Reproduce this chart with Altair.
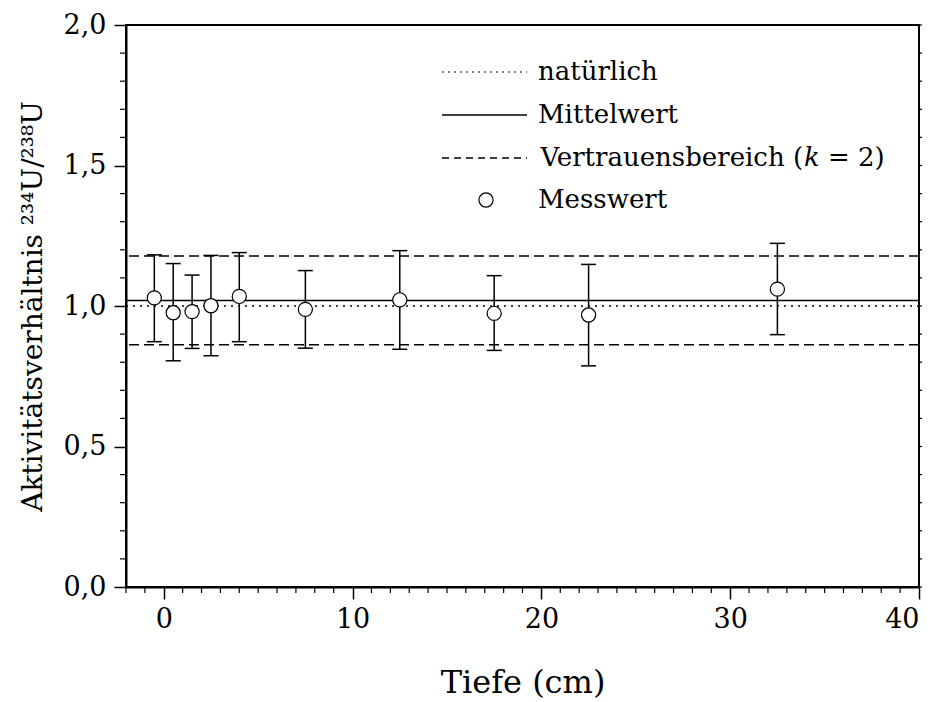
import altair as alt
import pandas as pd

# ---- data ----
depth = [-0.5, 0.5, 1.5, 2.5, 4.0, 7.5, 12.5, 17.5, 22.5, 32.5]
ratio = [1.029, 0.976, 0.980, 1.001, 1.034, 0.988, 1.022, 0.974, 0.968, 1.060]
upper = [1.182, 1.151, 1.110, 1.180, 1.190, 1.126, 1.197, 1.108, 1.148, 1.223]
lower = [0.873, 0.805, 0.849, 0.823, 0.873, 0.850, 0.846, 0.842, 0.787, 0.898]

natural_level = [1.0]
mean_level = [1.02]
ci_levels = [0.862, 1.178]

x_major = [0, 10, 20, 30, 40]
y_major = [0.0, 0.5, 1.0, 1.5, 2.0]
x_minor = [v for v in range(-2, 41) if v % 10 != 0]
y_minor = [round(i / 10, 1) for i in range(0, 21) if i % 5 != 0]
y_all = [round(i / 10, 1) for i in range(0, 21)]

legend_labels = ["natürlich", "Mittelwert", "Vertrauensbereich (", "Messwert"]

FONT = "DejaVu Serif"
W, H = 793, 562

df = pd.DataFrame({"depth": depth, "ratio": ratio, "upper": upper, "lower": lower})
xs = alt.Scale(domain=[-2, 40], nice=False, zero=False)
ys = alt.Scale(domain=[0, 2], nice=False, zero=False)

comma = "replace(format(datum.value, '.1f'), '.', ',')"

points = alt.Chart(df).mark_point(
    shape="circle", filled=True, fill="white", stroke="black",
    strokeWidth=1.2, size=200, opacity=1
).encode(
    x=alt.X("depth:Q", scale=xs, axis=alt.Axis(
        values=x_major, title="Tiefe (cm)", tickSize=12, labelPadding=7,
        titlePadding=35, titleFontSize=32, format="d")),
    y=alt.Y("ratio:Q", scale=ys, axis=alt.Axis(
        values=y_major, labelExpr=comma,
        title="Aktivitätsverhältnis ²³⁴U/²³⁸U", tickSize=12, labelPadding=8,
        titlePadding=16, titleFontSize=28)),
)

bars = alt.Chart(df).mark_rule(color="black", strokeWidth=1.5).encode(
    x=alt.X("depth:Q", scale=xs), y=alt.Y("lower:Q", scale=ys), y2="upper:Q")
cap_top = alt.Chart(df).mark_rule(color="black", strokeWidth=1.5, xOffset=-7.5, x2Offset=7.5).encode(
    x=alt.X("depth:Q", scale=xs), x2="depth:Q", y=alt.Y("upper:Q", scale=ys))
cap_bot = alt.Chart(df).mark_rule(color="black", strokeWidth=1.5, xOffset=-7.5, x2Offset=7.5).encode(
    x=alt.X("depth:Q", scale=xs), x2="depth:Q", y=alt.Y("lower:Q", scale=ys))

nat = alt.Chart(pd.DataFrame({"v": natural_level})).mark_rule(
    color="black", strokeWidth=1.5, strokeDash=[2, 5]).encode(y=alt.Y("v:Q", scale=ys))
mean = alt.Chart(pd.DataFrame({"v": mean_level})).mark_rule(
    color="black", strokeWidth=1.5).encode(y=alt.Y("v:Q", scale=ys))
ci = alt.Chart(pd.DataFrame({"v": ci_levels})).mark_rule(
    color="black", strokeWidth=1.5, strokeDash=[10, 5]).encode(y=alt.Y("v:Q", scale=ys))

# minor ticks
xminor = alt.Chart(pd.DataFrame({"v": x_minor})).mark_rule(color="black", strokeWidth=1.2).encode(
    x=alt.X("v:Q", scale=xs), y=alt.value(H), y2=alt.value(H + 6))
yminor = alt.Chart(pd.DataFrame({"v": y_minor})).mark_rule(color="black", strokeWidth=1.2).encode(
    y=alt.Y("v:Q", scale=ys), x=alt.value(0), x2=alt.value(-6))
yright = alt.Chart(pd.DataFrame({"v": y_all})).mark_rule(color="black", strokeWidth=1.2).encode(
    y=alt.Y("v:Q", scale=ys), x=alt.value(W), x2=alt.value(W + 3))

# legend (drawn inside the plot)
LX1, LX2, TX = 316, 401, 412
rows = [47, 90, 133, 175]
one = pd.DataFrame({"a": [0]})
leg = []
leg.append(alt.Chart(one).mark_rule(color="black", strokeWidth=1.2, strokeDash=[2, 4]).encode(
    x=alt.value(LX1), x2=alt.value(LX2), y=alt.value(rows[0])))
leg.append(alt.Chart(one).mark_rule(color="black", strokeWidth=1.5).encode(
    x=alt.value(LX1), x2=alt.value(LX2), y=alt.value(rows[1])))
leg.append(alt.Chart(one).mark_rule(color="black", strokeWidth=1.5, strokeDash=[7, 5]).encode(
    x=alt.value(LX1), x2=alt.value(LX2), y=alt.value(rows[2])))
leg.append(alt.Chart(one).mark_point(
    shape="circle", filled=True, fill="white", stroke="black", strokeWidth=1.2, size=200, opacity=1).encode(
    x=alt.value(360), y=alt.value(rows[3])))

FS = 26
for i, (lab, r) in enumerate(zip(legend_labels, rows)):
    if i == 2:
        continue
    leg.append(alt.Chart(one).mark_text(
        font=FONT, fontSize=FS, align="left", baseline="middle", color="black").encode(
        x=alt.value(TX), y=alt.value(r), text=alt.value(lab)))
J = TX + 10.195 * FS
leg.append(alt.Chart(one).mark_text(
    font=FONT, fontSize=FS, align="right", baseline="middle", color="black").encode(
    x=alt.value(J), y=alt.value(rows[2]), text=alt.value(legend_labels[2])))
leg.append(alt.Chart(one).mark_text(
    font=FONT, fontSize=FS, fontStyle="italic", align="left", baseline="middle", color="black").encode(
    x=alt.value(J + 1), y=alt.value(rows[2]), text=alt.value("k")))
leg.append(alt.Chart(one).mark_text(
    font=FONT, fontSize=FS, align="left", baseline="middle", color="black").encode(
    x=alt.value(J + 1 + 0.6 * FS + 0.32 * FS), y=alt.value(rows[2]), text=alt.value("= 2)")))

chart = alt.layer(
    ci, mean, nat, bars, cap_top, cap_bot, points, xminor, yminor, yright, *leg
).properties(
    width=W, height=H,
    autosize=alt.AutoSizeParams(type="none"),
    padding={"left": 118, "top": 17, "right": 10, "bottom": 115},
).configure_view(
    stroke="black", strokeWidth=2
).configure_axis(
    grid=False, domainColor="black", domainWidth=2, tickColor="black", tickWidth=1.5,
    labelFont=FONT, labelFontSize=27, labelColor="black",
    titleFont=FONT, titleColor="black", titleFontWeight="normal",
)

chart.save("out.html", embed_options={"renderer": "svg", "actions": False})
